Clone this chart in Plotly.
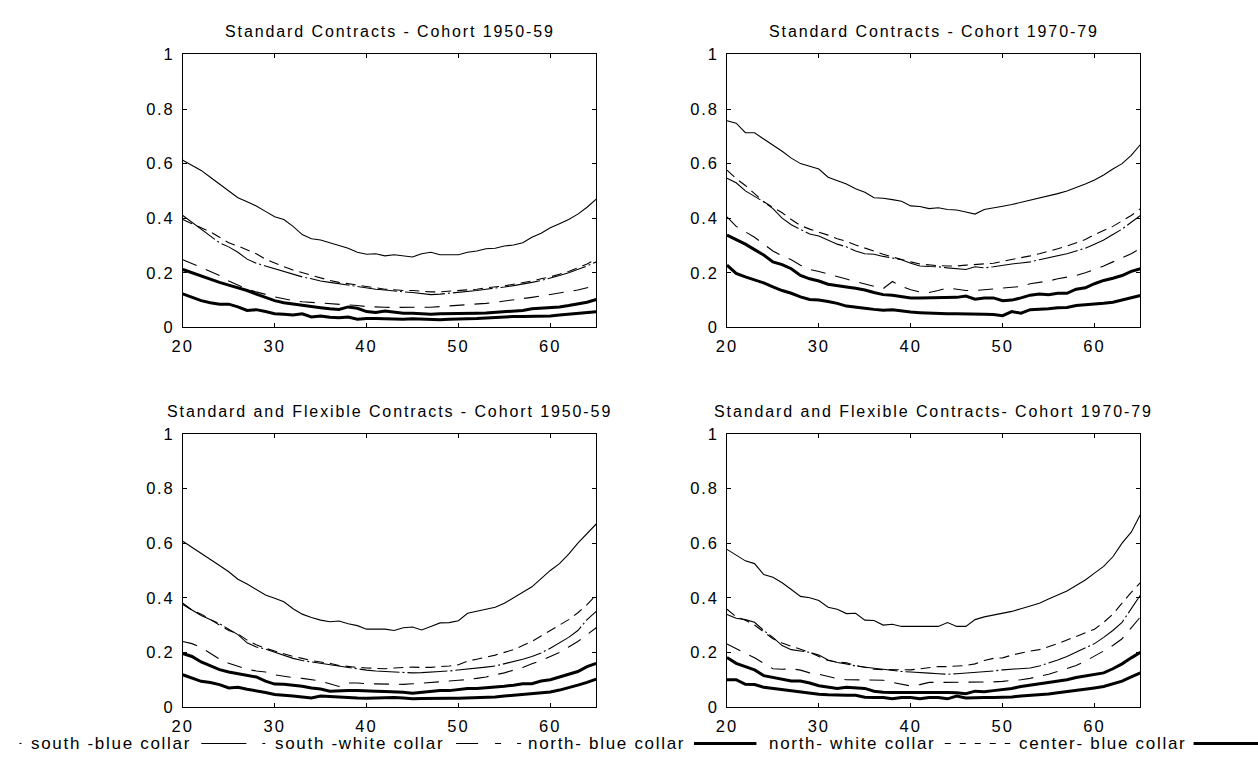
import plotly.graph_objects as go

AGES = list(range(20, 66))

PANEL_TITLES = [
    "Standard Contracts - Cohort 1950-59",
    "Standard Contracts - Cohort 1970-79",
    "Standard and Flexible Contracts - Cohort 1950-59",
    "Standard and Flexible Contracts- Cohort 1970-79",
]

LEGEND_LABELS = ["south -blue collar", "south -white collar", "north- blue collar",
                 "north- white collar", "center- blue collar"]

X_TICKS = [20, 30, 40, 50, 60]
Y_TICKS = [0, 0.2, 0.4, 0.6, 0.8, 1]
Y_TICK_TEXT = ["0", "0.2", "0.4", "0.6", "0.8", "1"]

# ---------------- Panel 1: Standard Contracts - Cohort 1950-59
p1_south_blue = [.612, .595, .575, .55, .525, .50, .475, .46, .445, .425, .405, .395, .37, .34, .325, .32,
                 .31, .30, .29, .275, .268, .27, .262, .266, .262, .258, .27, .275, .266, .266, .266, .275,
                 .28, .288, .29, .298, .302, .31, .33, .345, .365, .38, .395, .415, .44, .47]
p1_south_white = [.41, .385, .36, .335, .31, .295, .275, .25, .235, .225, .215, .205, .195, .185, .178, .17,
                  .165, .16, .155, .148, .143, .14, .137, .133, .13, .128, .124, .12, .122, .125, .128, .13,
                  .135, .14, .143, .148, .153, .158, .165, .172, .18, .19, .2, .212, .225, .24]
p1_center_blue = [.395, .38, .365, .35, .33, .31, .298, .285, .27, .25, .235, .222, .21, .2, .19, .18,
                  .172, .165, .16, .153, .148, .145, .14, .138, .135, .135, .132, .13, .13, .132, .135, .138,
                  .14, .145, .148, .152, .158, .163, .17, .178, .185, .195, .205, .218, .232, .25]
p1_north_blue = [.248, .235, .22, .205, .19, .17, .155, .14, .13, .12, .112, .105, .098, .094, .092, .09,
                 .087, .085, .082, .08, .076, .074, .074, .073, .074, .075, .074, .074, .076, .078, .08, .082,
                 .085, .088, .092, .096, .1, .105, .11, .115, .12, .125, .13, .137, .145, .152]
p1_center_white = [.212, .2, .19, .178, .165, .155, .145, .135, .122, .11, .098, .09, .085, .08, .077, .072,
                   .068, .066, .075, .07, .058, .055, .06, .057, .052, .052, .05, .048, .05, .05, .05, .052,
                   .052, .053, .055, .056, .058, .062, .068, .07, .072, .075, .08, .085, .092, .102]
p1_north_white = [.123, .11, .098, .09, .085, .085, .075, .062, .065, .058, .05, .048, .045, .05, .038, .042,
                  .037, .035, .038, .03, .033, .033, .032, .033, .03, .032, .03, .028, .028, .03, .03, .032,
                  .033, .035, .037, .038, .04, .04, .04, .042, .042, .045, .048, .052, .055, .057]

# ---------------- Panel 2: Standard Contracts - Cohort 1970-79
p2_south_blue = [.757, .748, .713, .713, .69, .668, .645, .62, .6, .59, .58, .55, .538, .525, .508, .495,
                 .475, .473, .468, .462, .445, .443, .435, .438, .432, .43, .423, .415, .432, .437, .444, .45,
                 .458, .465, .472, .48, .49, .5, .512, .525, .54, .558, .58, .6, .63, .67]
p2_south_white = [.546, .53, .5, .48, .46, .435, .4, .376, .36, .342, .335, .32, .305, .295, .28, .27,
                  .268, .26, .255, .248, .235, .225, .223, .222, .218, .215, .212, .222, .218, .222, .228, .232,
                  .236, .24, .248, .255, .262, .27, .28, .29, .305, .32, .34, .36, .385, .41]
p2_center_blue = [.576, .545, .52, .49, .46, .44, .42, .395, .373, .36, .35, .338, .325, .315, .302, .29,
                  .278, .268, .258, .248, .24, .232, .228, .226, .225, .225, .228, .23, .232, .235, .242, .248,
                  .255, .262, .27, .278, .288, .298, .31, .322, .34, .355, .37, .39, .41, .435]
p2_north_blue = [.405, .37, .35, .33, .305, .28, .262, .248, .228, .212, .205, .195, .185, .177, .168, .16,
                 .15, .142, .168, .15, .138, .13, .128, .135, .145, .14, .135, .135, .138, .14, .142, .145,
                 .15, .16, .165, .17, .178, .185, .19, .2, .212, .225, .24, .255, .27, .29]
p2_center_white = [.338, .322, .305, .285, .265, .24, .23, .215, .19, .178, .17, .158, .152, .148, .143, .137,
                   .128, .12, .118, .113, .108, .108, .108, .108, .108, .11, .115, .103, .108, .108, .098, .1,
                   .108, .118, .122, .12, .125, .125, .14, .145, .16, .172, .18, .19, .205, .215]
p2_north_white = [.228, .198, .185, .175, .163, .148, .135, .125, .112, .102, .1, .095, .088, .078, .073, .07,
                  .066, .063, .065, .06, .056, .054, .052, .05, .05, .05, .05, .05, .048, .047, .043, .058,
                  .052, .065, .066, .068, .072, .073, .08, .082, .085, .088, .092, .1, .108, .117]

# ---------------- Panel 3: Standard and Flexible Contracts - Cohort 1950-59
p3_south_blue = [.607, .585, .565, .54, .518, .495, .468, .45, .43, .41, .398, .385, .36, .34, .328, .318,
                 .312, .315, .305, .298, .285, .285, .285, .28, .29, .293, .282, .295, .308, .309, .316, .343,
                 .35, .357, .365, .38, .4, .42, .44, .47, .5, .525, .56, .6, .635, .67]
p3_south_white = [.38, .355, .335, .32, .305, .285, .265, .235, .22, .212, .2, .19, .178, .17, .165, .16,
                  .155, .148, .145, .14, .135, .132, .13, .128, .128, .125, .126, .127, .13, .132, .135, .14,
                  .143, .146, .15, .158, .165, .175, .185, .198, .215, .235, .255, .28, .32, .35]
p3_center_blue = [.375, .355, .34, .32, .3, .28, .268, .245, .228, .215, .205, .195, .185, .178, .17, .165,
                  .16, .152, .148, .145, .143, .142, .14, .143, .145, .146, .145, .145, .148, .15, .155, .168,
                  .175, .182, .19, .2, .21, .225, .24, .26, .28, .3, .32, .345, .375, .41]
p3_north_blue = [.24, .232, .218, .195, .175, .16, .148, .138, .132, .128, .118, .112, .108, .105, .1, .095,
                 .085, .075, .088, .088, .085, .084, .083, .083, .083, .085, .087, .089, .092, .095, .098, .1,
                 .105, .11, .118, .125, .135, .145, .158, .17, .185, .2, .22, .24, .265, .29]
p3_center_white = [.196, .185, .165, .15, .137, .128, .122, .115, .11, .095, .084, .083, .08, .076, .07, .066,
                   .058, .06, .06, .06, .06, .058, .057, .056, .054, .05, .053, .056, .06, .06, .063, .068,
                   .068, .07, .072, .076, .08, .085, .085, .095, .1, .11, .118, .13, .148, .16]
p3_north_white = [.118, .105, .094, .09, .082, .07, .072, .065, .06, .053, .046, .042, .04, .037, .033, .04,
                  .038, .035, .034, .033, .032, .033, .034, .035, .033, .03, .031, .032, .032, .032, .032, .033,
                  .034, .035, .037, .04, .043, .045, .048, .05, .055, .062, .07, .08, .09, .102]

# ---------------- Panel 4: Standard and Flexible Contracts - Cohort 1970-79
p4_south_blue = [.577, .555, .535, .525, .485, .475, .455, .43, .405, .4, .39, .365, .358, .342, .343, .318,
                 .317, .3, .303, .295, .295, .297, .295, .295, .309, .295, .295, .32, .33, .336, .342, .35,
                 .36, .37, .38, .395, .41, .425, .445, .465, .49, .515, .55, .6, .64, .705]
p4_south_white = [.339, .325, .32, .31, .28, .255, .225, .21, .205, .2, .19, .172, .163, .158, .15, .145,
                  .142, .138, .133, .13, .128, .125, .124, .122, .12, .122, .124, .126, .128, .132, .136, .138,
                  .14, .143, .15, .16, .172, .185, .2, .215, .232, .255, .28, .31, .36, .41]
p4_center_blue = [.358, .33, .318, .3, .275, .25, .234, .222, .212, .2, .185, .17, .165, .162, .152, .145,
                  .138, .137, .136, .136, .136, .14, .145, .148, .148, .15, .152, .158, .17, .178, .18, .19,
                  .198, .205, .21, .22, .232, .245, .258, .27, .285, .31, .34, .38, .42, .455]
p4_north_blue = [.231, .215, .198, .18, .16, .14, .138, .14, .135, .125, .12, .112, .104, .1, .1, .1,
                 .1, .098, .09, .083, .077, .082, .09, .09, .09, .09, .09, .09, .091, .092, .094, .096,
                 .1, .105, .112, .12, .13, .14, .152, .168, .185, .205, .225, .25, .29, .33]
p4_center_white = [.181, .16, .148, .136, .115, .108, .1, .095, .095, .088, .078, .074, .068, .072, .07, .068,
                   .058, .054, .053, .053, .055, .054, .053, .053, .053, .052, .049, .058, .056, .06, .064, .068,
                   .075, .08, .085, .09, .095, .1, .108, .113, .12, .125, .14, .158, .18, .2]
p4_north_white = [.1, .1, .083, .082, .072, .068, .062, .058, .054, .05, .047, .045, .043, .043, .043, .036,
                  .035, .035, .03, .035, .035, .03, .035, .035, .03, .04, .033, .035, .035, .035, .035, .037,
                  .04, .042, .045, .048, .052, .056, .06, .065, .07, .075, .085, .095, .11, .125]

PANELS = [
    [p1_south_blue, p1_south_white, p1_center_blue, p1_north_blue, p1_center_white, p1_north_white],
    [p2_south_blue, p2_south_white, p2_center_blue, p2_north_blue, p2_center_white, p2_north_white],
    [p3_south_blue, p3_south_white, p3_center_blue, p3_north_blue, p3_center_white, p3_north_white],
    [p4_south_blue, p4_south_white, p4_center_blue, p4_north_blue, p4_center_white, p4_north_white],
]
SERIES = ["south -blue collar", "south -white collar", "center- blue collar",
          "north- blue collar", "center- white collar", "north- white collar"]
STYLES = [
    dict(width=1.1, dash="solid"),
    dict(width=1.1, dash="40px,3px,2px,3px"),
    dict(width=1.1, dash="10px,6px"),
    dict(width=1.1, dash="15px,10px"),
    dict(width=3, dash="solid"),
    dict(width=3, dash="solid"),
]

W, H = 1258, 771
FONT = "Liberation Sans"


def sp(t, s):
    return f'<span style="letter-spacing:{s}px">{t}</span>'


def px(x):
    return x / W


def py(y):
    return 1 - y / H


# panel pixel boxes: (left, right, top, bottom)
BOXES = [(173.3, 590.4, 46.5, 326.0), (722.3, 1139.4, 46.5, 326.0),
         (173.3, 590.4, 435.0, 714.7), (722.3, 1139.4, 435.0, 714.7)]

fig = go.Figure()
layout = dict(width=W, height=H, margin=dict(l=0, r=0, t=0, b=0),
              paper_bgcolor="white", plot_bgcolor="white", showlegend=False,
              font=dict(family=FONT, color="black"))

annotations = []
for i, (box, series_list) in enumerate(zip(BOXES, PANELS)):
    k = "" if i == 0 else str(i + 1)
    l, r, t, b = box
    for name, ys, st in zip(SERIES, series_list, STYLES):
        fig.add_trace(go.Scatter(x=AGES, y=ys, mode="lines", name=name,
                                 line=dict(color="black", **st),
                                 xaxis="x" + k, yaxis="y" + k, showlegend=False))
    common = dict(showgrid=False, zeroline=False, showline=True, linecolor="black", linewidth=1,
                  mirror="ticks", ticks="inside", ticklen=4, tickcolor="black", tickwidth=1,
                  tickfont=dict(family=FONT, size=16.5, color="black"), tickmode="array")
    layout["xaxis" + k] = dict(domain=[px(l), px(r)], anchor="y" + k, range=[20, 65],
                               tickvals=X_TICKS, ticktext=[sp(v, 2) for v in X_TICKS],
                               ticklabelstandoff=4, **common)
    layout["yaxis" + k] = dict(domain=[py(b), py(t)], anchor="x" + k, range=[0, 1],
                               tickvals=Y_TICKS, ticktext=[sp(v, 1.8) for v in Y_TICK_TEXT],
                               ticklabelstandoff=4, **common)
    annotations.append(dict(text=sp(PANEL_TITLES[i], 1.9), xref="paper", yref="paper",
                            x=px((l + r) / 2), y=py(t - 23), xanchor="center", yanchor="middle",
                            showarrow=False, font=dict(family=FONT, size=16, color="black")))

# legend row (drawn manually, clipped by the page edges like the original)
LEG_Y = 752
leg_text_x = [18, 264, 520, 763, 1015]
for lbl, x0 in zip(LEGEND_LABELS, leg_text_x):
    annotations.append(dict(text=sp(lbl, 1.7), xref="paper", yref="paper", x=px(x0), y=py(LEG_Y),
                            xanchor="left", yanchor="middle", showarrow=False,
                            font=dict(family=FONT, size=17, color="black")))

shapes = []
leg_samples = [
    (8.5, 10.5, 1.1, "solid"),
    (192, 257, 1.1, "45px,16px,3px,100px"),
    (449, 515, 1.1, "22px,17px,6px,16px,4px,100px"),
    (689, 752, 3, "solid"),
    (942, 1008, 1.1, "6px,9px"),
    (1193, 1262, 3, "solid"),
]
for x0, x1, w, d in leg_samples:
    shapes.append(dict(type="line", xref="paper", yref="paper", x0=px(x0), x1=px(x1),
                       y0=py(LEG_Y), y1=py(LEG_Y), line=dict(color="black", width=w, dash=d)))

layout["annotations"] = annotations
layout["shapes"] = shapes
fig.update_layout(**layout)
fig.write_html("out.html",
               post_script="document.body.style.margin='0';document.body.style.overflow='hidden';")
